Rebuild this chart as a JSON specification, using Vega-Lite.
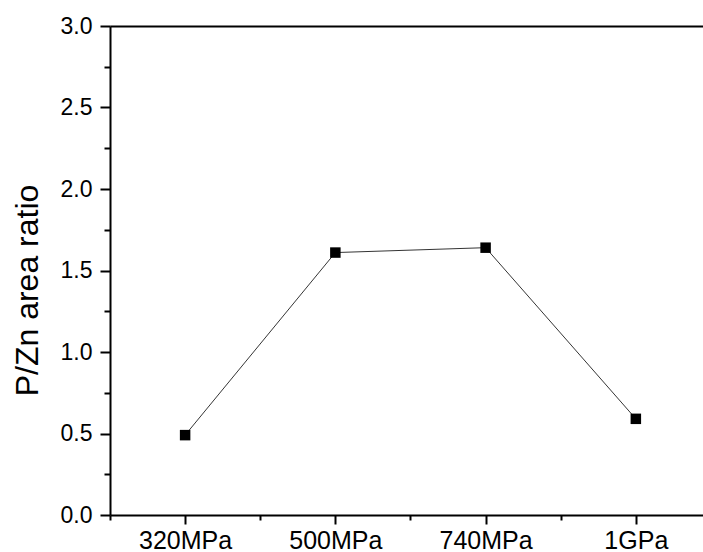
{
  "$schema": "https://vega.github.io/schema/vega-lite/v6.json",
  "width": 593,
  "height": 489,
  "autosize": {"type": "none"},
  "padding": {"left": 110, "top": 26, "right": 0, "bottom": 37},
  "background": "white",
  "config": {
    "view": {"stroke": null},
    "axis": {
      "grid": false,
      "domainColor": "black",
      "domainWidth": 2,
      "tickColor": "black",
      "tickWidth": 2,
      "labelColor": "black",
      "titleColor": "black",
      "labelFont": "Liberation Sans",
      "titleFont": "Liberation Sans",
      "titleFontWeight": "normal",
      "labelOverlap": false,
      "labelFlush": false
    }
  },
  "data": {
    "values": [
      {"idx": 0, "pressure": "320MPa", "ratio": 0.49},
      {"idx": 1, "pressure": "500MPa", "ratio": 1.61},
      {"idx": 2, "pressure": "740MPa", "ratio": 1.64},
      {"idx": 3, "pressure": "1GPa", "ratio": 0.59}
    ]
  },
  "layer": [
    {
      "mark": {"type": "line", "color": "black", "strokeWidth": 0.8},
      "encoding": {
        "x": {
          "field": "idx",
          "type": "quantitative",
          "scale": {"domain": [-0.5, 3.447], "nice": false, "zero": false},
          "axis": {
            "orient": "bottom",
            "title": null,
            "values": [-0.5, 0, 0.5, 1, 1.5, 2, 2.5, 3],
            "tickSize": {"condition": {"test": "datum.value % 1 === 0", "value": 9}, "value": 5},
            "labelFontSize": 25,
            "labelPadding": 4,
            "labelExpr": "datum.value === 0 ? '320MPa' : datum.value === 1 ? '500MPa' : datum.value === 2 ? '740MPa' : datum.value === 3 ? '1GPa' : ''"
          }
        },
        "y": {
          "field": "ratio",
          "type": "quantitative",
          "scale": {"domain": [0, 3], "nice": false, "zero": true},
          "axis": {
            "title": "P/Zn area ratio",
            "values": [0, 0.25, 0.5, 0.75, 1, 1.25, 1.5, 1.75, 2, 2.25, 2.5, 2.75, 3],
            "tickSize": {"condition": {"test": "datum.value % 0.5 === 0", "value": 10}, "value": 6},
            "labelFontSize": 23,
            "labelPadding": 8,
            "labelExpr": "datum.value % 0.5 === 0 ? format(datum.value, '.1f') : ''",
            "titleFontSize": 32,
            "titleAngle": -90,
            "titleBaseline": "alphabetic",
            "titleAlign": "center",
            "titleX": -73,
            "titleY": 264
          }
        }
      }
    },
    {
      "mark": {"type": "point", "shape": "square", "filled": true, "color": "black", "opacity": 1, "size": 110},
      "encoding": {
        "x": {
          "field": "idx",
          "type": "quantitative",
          "scale": {"domain": [-0.5, 3.447], "nice": false, "zero": false},
          "axis": {"orient": "top", "title": null, "labels": false, "ticks": false, "domain": true}
        },
        "y": {
          "field": "ratio",
          "type": "quantitative",
          "scale": {"domain": [0, 3], "nice": false, "zero": true},
          "axis": {
            "title": "P/Zn area ratio",
            "values": [0, 0.25, 0.5, 0.75, 1, 1.25, 1.5, 1.75, 2, 2.25, 2.5, 2.75, 3],
            "tickSize": {"condition": {"test": "datum.value % 0.5 === 0", "value": 10}, "value": 6},
            "labelFontSize": 23,
            "labelPadding": 8,
            "labelExpr": "datum.value % 0.5 === 0 ? format(datum.value, '.1f') : ''",
            "titleFontSize": 32,
            "titleAngle": -90,
            "titleBaseline": "alphabetic",
            "titleAlign": "center",
            "titleX": -73,
            "titleY": 264
          }
        }
      }
    }
  ],
  "resolve": {"axis": {"x": "independent"}}
}
